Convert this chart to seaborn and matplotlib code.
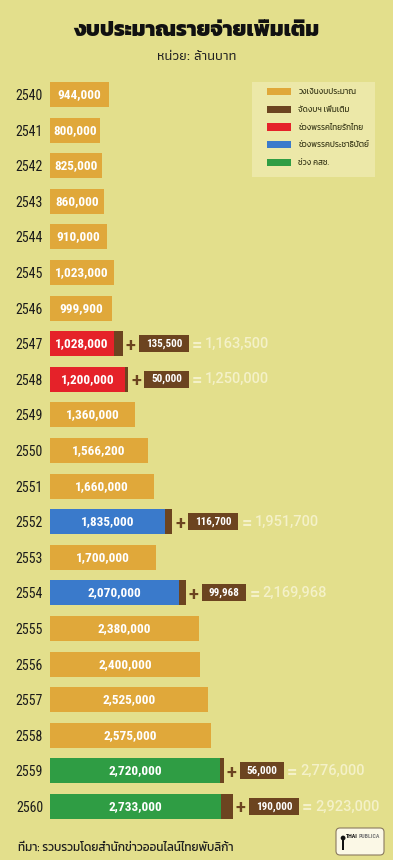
import matplotlib
matplotlib.use('Agg')
import matplotlib.pyplot as plt
import numpy as np
import pandas as pd
import seaborn as sns
from matplotlib.patches import Rectangle, Patch, FancyBboxPatch, Circle
from matplotlib.transforms import IdentityTransform

# ---------------- data ----------------
years = ['2540', '2541', '2542', '2543', '2544', '2545', '2546', '2547', '2548', '2549',
         '2550', '2551', '2552', '2553', '2554', '2555', '2556', '2557', '2558', '2559', '2560']
base = [944000, 800000, 825000, 860000, 910000, 1023000, 999900, 1028000, 1200000, 1360000,
        1566200, 1660000, 1835000, 1700000, 2070000, 2380000, 2400000, 2525000, 2575000,
        2720000, 2733000]
extra = [0, 0, 0, 0, 0, 0, 0, 135500, 50000, 0,
         0, 0, 116700, 0, 99968, 0, 0, 0, 0,
         56000, 190000]
period = ['base'] * 7 + ['trt', 'trt'] + ['base'] * 3 + ['dem', 'base', 'dem'] + ['base'] * 4 + ['ncpo', 'ncpo']
legend_labels = ['วงเงินงบประมาณ', 'จัดงบฯ เพิ่มเติม', 'ช่วงพรรคไทยรักไทย', 'ช่วงพรรคประชาธิปัตย์', 'ช่วง คสช.']
title = 'งบประมาณรายจ่ายเพิ่มเติม'
subtitle = 'หน่วย: ล้านบาท'
source = 'ที่มา: รวบรวมโดยสำนักข่าวออนไลน์ไทยพับลิก้า'

# ---------------- style ----------------
BG = '#E3DF8C'
LEG_BG = '#ECE8A8'
ORANGE = '#E0A83A'
BROWN = '#6C4420'
RED = '#E52229'
BLUE = '#3A7ACB'
GREEN = '#2F9D44'
CREAM = '#F4F1C8'
palette = {'base': ORANGE, 'trt': RED, 'dem': BLUE, 'ncpo': GREEN}
THAI = ['Kanit', 'Athiti', 'DejaVu Sans']
NARROW = ['Roboto Condensed', 'DejaVu Sans']

sns.set_theme(style='white')
plt.rcParams['font.family'] = THAI

df = pd.DataFrame({'year': years, 'base': base, 'extra': extra, 'period': period})
df['total'] = df['base'] + df['extra']

W, H = 393, 860
fig = plt.figure(figsize=(W / 100, H / 100), dpi=100, facecolor=BG)
row0, step = 94.5, 35.6
top_px = row0 - step / 2
bot_px = row0 + 20 * step + step / 2
ax = fig.add_axes([50 / W, 1 - bot_px / H, 1 - 50 / W, (bot_px - top_px) / H])
ax.set_facecolor(BG)

sns.barplot(data=df, y='year', x='total', order=years, color=BROWN, orient='h',
            width=0.7, errorbar=None, saturation=1, ax=ax)
sns.barplot(data=df, y='year', x='base', order=years, hue='period', palette=palette,
            dodge=False, orient='h', width=0.7, errorbar=None, saturation=1,
            legend=False, ax=ax)
for p in ax.patches:
    p.set_edgecolor('none')

ax.set_xlim(0, 343 * 16000)
ax.set_ylim(20.5, -0.5)
ax.set_xlabel('')
ax.set_ylabel('')
ax.set_xticks([])
for s in ax.spines.values():
    s.set_visible(False)
ax.tick_params(axis='y', length=0, pad=5)
for lab in ax.get_yticklabels():
    lab.set_fontfamily(NARROW)
    lab.set_fontsize(10)
    lab.set_color('#1B1B1B')

# labels inside bars
for i, b in enumerate(base):
    ax.text(b / 2, i, f'{b:,}', ha='center', va='center', color='white',
            fontsize=9.5, fontweight='bold', family=NARROW)

# additional-budget chains
fig.canvas.draw()
renderer = fig.canvas.get_renderer()
ident = IdentityTransform()
for i, (b, e, t) in enumerate(zip(base, extra, df['total'])):
    if e == 0:
        continue
    xe, yc = ax.transData.transform((t, i))
    fig.text(xe + 8, yc, '+', transform=ident, ha='center', va='center_baseline',
             color=BROWN, fontsize=13, fontweight='bold', family=['Roboto', 'DejaVu Sans'])
    bx = xe + 16
    tb = fig.text(0, 0, f'{e:,}', transform=ident, ha='center', va='center',
                  color='white', fontsize=8, fontweight='bold', family=NARROW, zorder=5)
    tw = tb.get_window_extent(renderer).width
    bw = tw + 14
    tb.set_position((bx + bw / 2, yc))
    fig.add_artist(Rectangle((bx, yc - 8.5), bw, 17, transform=ident,
                             facecolor=BROWN, edgecolor='none', zorder=4))
    br = bx + bw
    fig.text(br + 8, yc, '=', transform=ident, ha='center', va='center_baseline',
             color=CREAM, fontsize=13, fontweight='bold', family=['Roboto', 'DejaVu Sans'])
    fig.text(br + 16, yc, f'{t:,}', transform=ident, ha='left', va='center',
             color=CREAM, fontsize=10.5, fontweight='medium', family=['Roboto', 'DejaVu Sans'])

# legend (panel behind, entries by matplotlib's legend)
ax.add_patch(Rectangle((252, H - 177), 123, 95, transform=ident, facecolor=LEG_BG,
                       edgecolor='none', zorder=0.5, clip_on=False))
handles = [Patch(facecolor=c, edgecolor='none') for c in [ORANGE, BROWN, RED, BLUE, GREEN]]
leg = ax.legend(handles, legend_labels, loc='upper left',
                bbox_to_anchor=(267 / W, 1 - 88 / H), bbox_transform=fig.transFigure,
                borderaxespad=0, frameon=False, handlelength=3.0,
                handleheight=1.0, handletextpad=0.9, labelspacing=1.16, borderpad=0,
                prop={'family': THAI, 'weight': 'normal', 'size': 5.8})
leg.set_zorder(6)
for txt in leg.get_texts():
    txt.set_color('#3A3A1A')

# titles
fig.text(0.5, 1 - 30 / H, title, ha='center', va='center', fontsize=15.5, fontweight=800,
         color='#111111')
fig.text(0.5, 1 - 57 / H, subtitle, ha='center', va='center', fontsize=10, color='#222222',
         family=['Athiti', 'Kanit', 'DejaVu Sans'], fontweight='medium')
fig.text(18 / W, 1 - 848 / H, source, ha='left', va='center', fontsize=8.5,
         color='#1E1E1E', fontweight='normal')

# logo
fig.add_artist(FancyBboxPatch((336, 5), 48, 27, boxstyle='round,pad=0,rounding_size=4',
                              transform=ident, facecolor='#FBF8E6', edgecolor='#8A7A60',
                              linewidth=0.8))
t1 = fig.text(346, 24, 'THAI', transform=ident, ha='left', va='center', fontsize=4.2,
              fontweight='bold', color='#111111', family=NARROW)
w1 = t1.get_window_extent(renderer).width
fig.text(346 + w1 + 0.5, 24, 'PUBLICA', transform=ident, ha='left', va='center', fontsize=4.2,
         fontweight='bold', color='#777777', family=NARROW)
fig.add_artist(Rectangle((342, 10), 2.2, 10, transform=ident, facecolor='#111111', edgecolor='none'))
fig.add_artist(Circle((343.1, 22), 2.4, transform=ident, facecolor='#111111', edgecolor='none'))

fig.savefig('out.png', dpi=100, facecolor=BG)
